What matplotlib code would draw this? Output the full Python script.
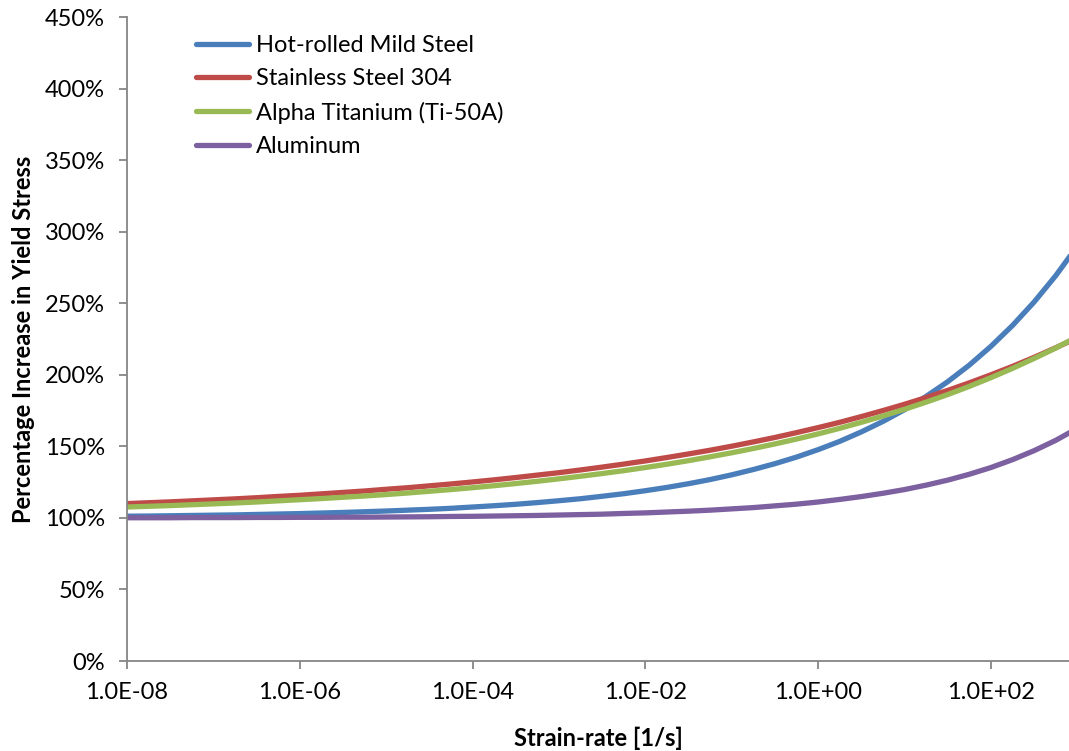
import numpy as np
import matplotlib
matplotlib.use("Agg")
import matplotlib.pyplot as plt
from matplotlib.ticker import FuncFormatter, FixedLocator, NullLocator

plt.rcParams["font.family"] = ["Lato", "DejaVu Sans"]

# Strain-rate sample grid, quarter-decade steps from 1e-8 to 1e3 [1/s]
strain_rate = np.logspace(-8, 3, 45)

# Dynamic yield stress as a percentage of the static value
mild_steel = [101.2, 101.3, 101.5, 101.7, 101.9, 102.1, 102.4, 102.7, 103.0, 103.4,
              103.8, 104.3, 104.8, 105.4, 106.0, 106.7, 107.6, 108.5, 109.5, 110.7,
              112.0, 113.4, 115.1, 116.9, 119.0, 121.3, 123.9, 126.8, 130.1, 133.8,
              137.9, 142.5, 147.7, 153.5, 160.1, 167.4, 175.6, 184.9, 195.2, 206.8,
              219.9, 234.5, 250.9, 269.3, 290.0]
stainless_304 = [110.0, 110.6, 111.2, 111.9, 112.6, 113.3, 114.1, 115.0, 115.8, 116.8,
                 117.8, 118.8, 120.0, 121.1, 122.4, 123.7, 125.1, 126.6, 128.2, 129.9,
                 131.6, 133.5, 135.5, 137.6, 139.8, 142.2, 144.7, 147.3, 150.1, 153.1,
                 156.2, 159.6, 163.1, 166.8, 170.8, 175.0, 179.4, 184.1, 189.1, 194.4,
                 200.0, 205.9, 212.2, 218.9, 225.9]
titanium_50a = [107.6, 108.1, 108.6, 109.2, 109.8, 110.4, 111.1, 111.9, 112.7, 113.5,
                114.4, 115.3, 116.3, 117.4, 118.6, 119.8, 121.1, 122.5, 124.0, 125.6,
                127.3, 129.1, 131.0, 133.0, 135.2, 137.5, 140.0, 142.7, 145.5, 148.5,
                151.7, 155.1, 158.7, 162.6, 166.8, 171.2, 175.9, 180.9, 186.2, 191.9,
                198.0, 204.5, 211.4, 218.7, 226.6]
aluminum = [100.1, 100.1, 100.1, 100.2, 100.2, 100.2, 100.3, 100.3, 100.4, 100.4,
            100.5, 100.5, 100.6, 100.7, 100.8, 101.0, 101.1, 101.3, 101.5, 101.7,
            102.0, 102.3, 102.6, 103.1, 103.5, 104.1, 104.7, 105.4, 106.3, 107.2,
            108.4, 109.6, 111.1, 112.9, 114.9, 117.2, 119.8, 122.9, 126.4, 130.5,
            135.2, 140.7, 147.0, 154.2, 162.6]

series = [
    ("Hot-rolled Mild Steel", mild_steel, "#4A7EBB"),
    ("Stainless Steel 304", stainless_304, "#BE4B48"),
    ("Alpha Titanium (Ti-50A)", titanium_50a, "#98B954"),
    ("Aluminum", aluminum, "#7D60A0"),
]

y_ticks = [0, 50, 100, 150, 200, 250, 300, 350, 400, 450]
x_ticks = [1e-8, 1e-6, 1e-4, 1e-2, 1e0, 1e2]

fs = 17

fig = plt.figure(figsize=(10.69, 7.51), dpi=100)
ax = fig.add_axes([127 / 1069, 1 - 661 / 751, 1 - 127 / 1069, (661 - 17) / 751])

for label, values, color in series:
    ax.plot(strain_rate, values, color=color, lw=3.8, label=label,
            solid_capstyle="round")

ax.set_xscale("log")
ax.set_xlim(1e-8, 10 ** 2.903)
ax.set_ylim(0, 450)

grey = "#868686"
for side in ("top", "right"):
    ax.spines[side].set_visible(False)
for side in ("left", "bottom"):
    ax.spines[side].set_color(grey)
    ax.spines[side].set_linewidth(1.3)

ax.xaxis.set_major_locator(FixedLocator(x_ticks))
ax.xaxis.set_minor_locator(NullLocator())
ax.yaxis.set_major_locator(FixedLocator(y_ticks))


def sci_label(v, _pos):
    exp = int(round(np.log10(v)))
    sign = "-" if exp < 0 else "+"
    return f"1.0E{sign}{abs(exp):02d}"


ax.xaxis.set_major_formatter(FuncFormatter(sci_label))
ax.yaxis.set_major_formatter(FuncFormatter(lambda v, _p: f"{v:.0f}%"))
ax.tick_params(axis="both", which="major", direction="out", length=6,
               width=1.3, color=grey, labelsize=fs, labelcolor="black")
ax.tick_params(axis="x", pad=9)
ax.tick_params(axis="y", pad=10)

ax.set_xlabel("Strain-rate [1/s]", fontsize=fs, fontweight="bold", labelpad=17)
ax.set_ylabel("Percentage Increase in Yield Stress", fontsize=fs,
              fontweight="bold", labelpad=7)

ax.legend(loc="upper left", bbox_to_anchor=(196 / 1069, 1 - 35 / 751),
          bbox_transform=fig.transFigure, frameon=False, fontsize=fs,
          handlelength=2.25, handletextpad=0.3, labelspacing=0.52,
          borderpad=0, borderaxespad=0)

fig.savefig("out.png", dpi=100)
